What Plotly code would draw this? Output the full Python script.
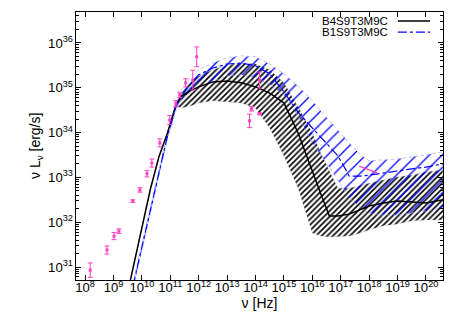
import numpy as np
import plotly.graph_objects as go

# ---- data (log10 values) ----
grid_lognu = [9.55, 9.8, 10.0, 10.3, 10.6, 10.9, 11.2, 11.4, 11.7, 12.0, 12.5, 13.0, 13.5, 14.0,
              14.5, 15.0, 15.5, 16.0, 16.3, 16.6, 16.9, 17.3, 17.7, 18.0, 18.5, 19.0, 19.5, 20.0, 20.6]

b4_line = [30.58, 31.29, 31.87, 32.74, 33.46, 33.99, 34.62, 34.82, 34.93, 35.02, 35.13, 35.15, 35.11, 35.02,
           34.88, 34.66, 33.99, 33.12, 32.63, 32.14, 32.14, 32.18, 32.29, 32.36, 32.43, 32.47, 32.45, 32.43, 32.50]
b4_upper = [30.58, 31.29, 31.87, 32.74, 33.46, 33.99, 34.62, 34.88, 35.13, 35.26, 35.40, 35.51, 35.55, 35.53,
            35.40, 35.11, 34.57, 33.99, 33.54, 33.14, 32.76, 32.76, 32.83, 32.87, 32.94, 33.01, 33.05, 33.12, 33.17]
b4_lower = [30.58, 31.29, 31.87, 32.74, 33.46, 33.99, 34.59, 34.55, 34.59, 34.66, 34.71, 34.68, 34.66, 34.55,
            34.10, 33.48, 32.76, 31.76, 31.69, 31.67, 31.67, 31.69, 31.76, 31.83, 31.92, 31.96, 32.03, 32.05, 32.05]

b1_line = [30.20, 30.91, 31.45, 32.27, 33.10, 33.92, 34.57, 34.82, 35.08, 35.29, 35.44, 35.53, 35.55, 35.49,
           35.31, 34.91, 34.45, 34.10, 33.88, 33.68, 33.48, 33.03, 33.03, 33.05, 33.10, 33.14, 33.19, 33.23, 33.30]
b1_upper = [30.26, 30.98, 31.51, 32.34, 33.17, 33.99, 34.66, 34.95, 35.22, 35.40, 35.55, 35.67, 35.71, 35.69,
            35.53, 35.31, 35.04, 34.71, 34.48, 34.26, 34.06, 33.77, 33.50, 33.37, 33.39, 33.41, 33.46, 33.50, 33.57]
b1_lower = [30.13, 30.84, 31.38, 32.21, 33.03, 33.86, 34.50, 34.77, 34.88, 35.00, 35.15, 35.26, 35.29, 35.22,
            35.08, 34.84, 34.37, 33.77, 33.48, 33.21, 32.94, 32.54, 32.32, 32.21, 32.16, 32.16, 32.21, 32.25, 32.32]

obs_lognu = [8.18, 8.77, 9.02, 9.19, 9.68, 9.93, 10.18, 10.35, 10.63, 10.98, 11.19, 11.33, 11.54, 11.79,
             11.93, 13.79, 13.86, 14.14, 14.14]
obs_logL = [30.93, 31.38, 31.69, 31.80, 32.47, 32.72, 33.08, 33.32, 33.77, 34.28, 34.64, 34.84, 35.11, 35.17,
            35.69, 34.26, 34.53, 34.42, 35.17]
obs_logerr = [0.16, 0.09, 0.08, 0.05, 0.03, 0.05, 0.07, 0.09, 0.09, 0.10, 0.07, 0.06, 0.09, 0.22,
              0.22, 0.15, 0.05, 0.02, 0.18]

xray_lognu = [17.65, 18.28]
xray_logL = [33.25, 33.10]

legend_names = ["B4S9T3M9C", "B1S9T3M9C"]
y_title = "ν L<sub>ν</sub> [erg/s]"
x_title = "ν [Hz]"

# ---- styling ----
FONT = "Liberation Sans, Arial, Helvetica, sans-serif"
PINK = "#ff3fc4"
BLUE = "#0000ff"

p = lambda a: 10 ** np.asarray(a, dtype=float)
gx = p(grid_lognu)

fig = go.Figure()

# black hatched band
fig.add_trace(go.Scatter(
    x=np.concatenate([gx, gx[::-1]]),
    y=np.concatenate([p(b4_upper), p(b4_lower)[::-1]]),
    fill="toself", mode="lines", line=dict(width=0.5, color="rgba(160,160,160,0.5)"),
    fillcolor="rgba(0,0,0,0)",
    fillpattern=dict(shape="/", fgcolor="black", bgcolor="rgba(0,0,0,0)", size=4, solidity=0.4,
                     fillmode="replace"),
    showlegend=False, hoverinfo="skip"))

# blue hatched band
fig.add_trace(go.Scatter(
    x=np.concatenate([gx, gx[::-1]]),
    y=np.concatenate([p(b1_upper), p(b1_lower)[::-1]]),
    fill="toself", mode="lines", line=dict(width=1, color="rgba(150,160,255,0.7)", dash="dot"),
    fillcolor="rgba(0,0,0,0)",
    fillpattern=dict(shape="/", fgcolor=BLUE, bgcolor="rgba(0,0,0,0)", size=9, solidity=0.14,
                     fillmode="replace"),
    showlegend=False, hoverinfo="skip"))

# central lines
fig.add_trace(go.Scatter(x=gx, y=p(b4_line), mode="lines", line=dict(color="black", width=1.5),
                         name=legend_names[0], showlegend=False))
fig.add_trace(go.Scatter(x=gx, y=p(b1_line), mode="lines", line=dict(color=BLUE, width=1.2, dash="dashdot"),
                         name=legend_names[1], showlegend=False))

# observed data
oy = p(obs_logL)
fig.add_trace(go.Scatter(
    x=p(obs_lognu), y=oy, mode="markers",
    marker=dict(symbol="square", size=3, color=PINK),
    error_y=dict(type="data", symmetric=False,
                 array=p(np.add(obs_logL, obs_logerr)) - oy,
                 arrayminus=oy - p(np.subtract(obs_logL, obs_logerr)),
                 color=PINK, thickness=1, width=2.5),
    showlegend=False))
fig.add_trace(go.Scatter(x=p(xray_lognu), y=p(xray_logL), mode="lines",
                         line=dict(color=PINK, width=1.2), showlegend=False))

# custom gnuplot-style legend (text left of sample)
leg_y = [0.966, 0.925]
leg_styles = [dict(color="black", width=1.5), dict(color=BLUE, width=1.2, dash="dashdot")]
for name, yy, st in zip(legend_names, leg_y, leg_styles):
    fig.add_annotation(x=0.856, y=yy, xref="paper", yref="paper", text=name, showarrow=False,
                       xanchor="right", yanchor="middle", font=dict(family=FONT, size=11.5, color="black"))
    fig.add_shape(type="line", xref="paper", yref="paper", x0=0.877, x1=0.965, y0=yy, y1=yy, line=st)

# y axis title as rotated annotation (placed like gnuplot)
fig.add_annotation(x=-0.109, y=0.5, xref="paper", yref="paper", text=y_title, textangle=-90,
                   showarrow=False, xanchor="center", yanchor="middle",
                   font=dict(family=FONT, size=14, color="black"))

axis_common = dict(showline=True, linecolor="black", linewidth=1, mirror="ticks", ticks="inside",
                   ticklen=5, tickcolor="black", showgrid=False, zeroline=False, type="log",
                   dtick=1, exponentformat="power", showexponent="all", tickangle=0,
                   tickfont=dict(family=FONT, size=10.5, color="black"))

fig.update_xaxes(**axis_common, range=[7.68, 20.6], ticklabelstandoff=-4,
                 title=dict(text=x_title, font=dict(family=FONT, size=14, color="black"), standoff=2))
fig.update_yaxes(**axis_common, range=[30.71, 36.69],
                 minor=dict(ticks="inside", ticklen=3, dtick="D1", tickcolor="black", showgrid=False))

fig.update_layout(width=458, height=321, margin=dict(l=68, r=23, t=4, b=49),
                  plot_bgcolor="white", paper_bgcolor="white", font=dict(family=FONT))

fig.write_html("out.html")
